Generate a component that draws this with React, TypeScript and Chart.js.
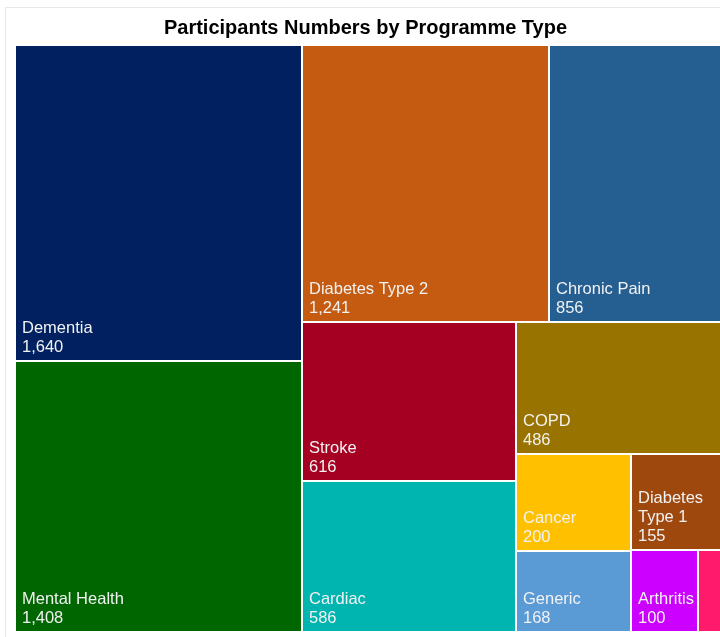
import React, { useEffect, useRef } from "react";
import { Chart, registerables } from "chart.js";

Chart.register(...registerables);

const chartTitle = "Participants Numbers by Programme Type";
const programmes = [
  "Dementia",
  "Mental Health",
  "Diabetes Type 2",
  "Chronic Pain",
  "Stroke",
  "Cardiac",
  "COPD",
  "Cancer",
  "Generic",
  "Diabetes Type 1",
  "Arthritis",
  "Other",
];
const participants = [1640, 1408, 1241, 856, 616, 586, 486, 200, 168, 155, 100, 32];
const colours = [
  "#002060",
  "#006600",
  "#C55A11",
  "#255E91",
  "#A50021",
  "#00B4B0",
  "#997300",
  "#FFC000",
  "#5B9BD5",
  "#9E480E",
  "#CC00FF",
  "#FF1A6C",
];

type Rect = { i: number; x: number; y: number; w: number; h: number };

function worst(row: number[], short: number): number {
  const s = row.reduce((a, b) => a + b, 0);
  const mx = Math.max(...row);
  const mn = Math.min(...row);
  return Math.max((short * short * mx) / (s * s), (s * s) / (short * short * mn));
}

function squarify(values: number[], W: number, H: number): Rect[] {
  const order = values.map((v, i) => i).sort((a, b) => values[b] - values[a]);
  const total = values.reduce((a, b) => a + b, 0);
  const k = (W * H) / total;
  const areas = order.map((i) => values[i] * k);
  const rects: Rect[] = [];
  let x = 0, y = 0, w = W, h = H;
  let i = 0;
  while (i < areas.length) {
    const short = Math.min(w, h);
    let row = [areas[i]];
    let j = i + 1;
    while (j < areas.length) {
      const cand = row.concat(areas[j]);
      if (worst(cand, short) <= worst(row, short)) {
        row = cand;
        j++;
      } else break;
    }
    const s = row.reduce((a, b) => a + b, 0);
    if (w >= h) {
      const cw = s / h;
      let cy = y;
      row.forEach((a, n) => {
        const rh = a / cw;
        rects.push({ i: order[i + n], x, y: cy, w: cw, h: rh });
        cy += rh;
      });
      x += cw;
      w -= cw;
    } else {
      const rh = s / w;
      let cx = x;
      row.forEach((a, n) => {
        const rw = a / rh;
        rects.push({ i: order[i + n], x: cx, y, w: rw, h: rh });
        cx += rw;
      });
      y += rh;
      h -= rh;
    }
    i = j;
  }
  return rects;
}

const fmt = (v: number) => v.toLocaleString("en-GB");

const treemapPlugin = {
  id: "treemapCells",
  beforeDraw(chart: any) {
    const ctx = chart.ctx;
    ctx.save();
    ctx.fillStyle = "#ffffff";
    ctx.fillRect(0, 0, chart.width, chart.height);
    ctx.fillStyle = "#e8e8e8";
    ctx.fillRect(5, 7, chart.width, 1);
    ctx.fillRect(5, 7, 1, chart.height);
    ctx.fillStyle = "#000000";
    ctx.font = 'bold 20px "Liberation Sans", Arial, sans-serif';
    ctx.textAlign = "center";
    ctx.textBaseline = "alphabetic";
    ctx.fillText(chartTitle, 365.5, 34);
    ctx.restore();
  },
  afterDatasetsDraw(chart: any) {
    const ctx = chart.ctx;
    const ca = chart.chartArea;
    const xs = chart.scales.x;
    const ys = chart.scales.y;
    const ds = chart.data.datasets[0] as any;
    const vals: number[] = ds.tree;
    const names: string[] = ds.names;
    const cols: string[] = ds.colours;
    const W = ca.right - ca.left;
    const H = ca.bottom - ca.top;
    const rects = squarify(vals, W, H);
    const gap = 2;
    const pad = 6;
    const lineH = 19;
    ctx.save();
    rects.forEach((r) => {
      const x0 = Math.round(xs.getPixelForValue((r.x / W) * 100));
      const x1 = Math.round(xs.getPixelForValue(((r.x + r.w) / W) * 100));
      const y0 = Math.round(ys.getPixelForValue((r.y / H) * 100));
      const y1 = Math.round(ys.getPixelForValue(((r.y + r.h) / H) * 100));
      const atRight = Math.abs(r.x + r.w - W) < 1;
      const cw = atRight ? chart.width - x0 : x1 - x0 - gap;
      const chh = y1 - y0 - gap;
      ctx.fillStyle = cols[r.i];
      ctx.fillRect(x0, y0, cw, chh);

      ctx.font = '16.5px "Liberation Sans", Arial, sans-serif';
      ctx.textAlign = "left";
      ctx.textBaseline = "alphabetic";
      const maxW = x1 - x0 - gap - pad;
      const words = names[r.i].split(" ");
      const lines: string[] = [];
      let cur = "";
      words.forEach((wd) => {
        const t = cur ? cur + " " + wd : wd;
        if (ctx.measureText(t).width <= maxW || !cur) cur = t;
        else {
          lines.push(cur);
          cur = wd;
        }
      });
      if (cur) lines.push(cur);
      lines.push(fmt(vals[r.i]));
      const fits =
        lines.every((l) => ctx.measureText(l).width <= maxW) &&
        lines.length * lineH + 8 <= chh;
      if (!fits) return;
      ctx.fillStyle = "#f2f2f2";
      const base = y0 + chh - 8;
      lines.forEach((l, n) => {
        ctx.fillText(l, x0 + pad, base - (lines.length - 1 - n) * lineH);
      });
    });
    ctx.restore();
  },
};

export default function App() {
  const ref = useRef<HTMLCanvasElement | null>(null);
  useEffect(() => {
    if (!ref.current) return;
    const chart = new Chart(ref.current, {
      type: "scatter",
      data: {
        datasets: [
          {
            label: "Participants",
            data: [],
            tree: participants,
            names: programmes,
            colours: colours,
          } as any,
        ],
      },
      options: {
        animation: false,
        responsive: false,
        maintainAspectRatio: false,
        devicePixelRatio: 1,
        layout: { padding: { left: 16, top: 46, right: 19, bottom: 4 } },
        scales: {
          x: { type: "linear", min: 0, max: 100, display: false },
          y: { type: "linear", min: 0, max: 100, reverse: true, display: false },
        },
        plugins: {
          legend: { display: false },
          tooltip: { enabled: false },
          title: { display: false },
        },
      },
      plugins: [treemapPlugin],
    });
    return () => chart.destroy();
  }, []);
  return (
    <div
      style={{
        position: "fixed",
        left: 0,
        top: 0,
        width: 720,
        height: 637,
        overflow: "hidden",
        background: "#ffffff",
      }}
    >
      <canvas ref={ref} width={740} height={637} style={{ display: "block" }} />
    </div>
  );
}
